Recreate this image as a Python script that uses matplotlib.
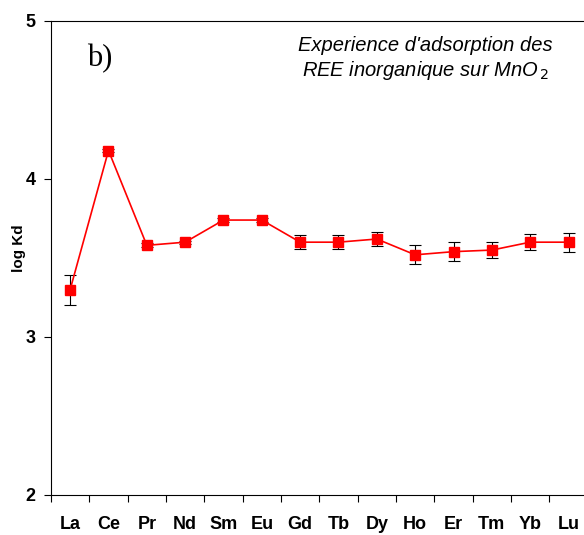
import numpy as np
import matplotlib.pyplot as plt

plt.rcParams['font.family'] = ['Liberation Sans', 'DejaVu Sans']

# REE adsorption on MnO2: log Kd per element with standard deviation
elements = ['La', 'Ce', 'Pr', 'Nd', 'Sm', 'Eu', 'Gd', 'Tb', 'Dy', 'Ho', 'Er', 'Tm', 'Yb', 'Lu']
log_kd = [3.30, 4.18, 3.58, 3.60, 3.74, 3.74, 3.60, 3.60, 3.62, 3.52, 3.54, 3.55, 3.60, 3.60]
log_kd_err = [0.095, 0.01, 0.012, 0.01, 0.01, 0.012, 0.045, 0.045, 0.046, 0.06, 0.06, 0.048, 0.05, 0.06]

x = np.arange(len(elements))

fig = plt.figure(figsize=(5.84, 5.35), dpi=100)
ax = fig.add_axes([0.0873, 0.0748, 0.919, 0.886])

ax.errorbar(x, log_kd, yerr=log_kd_err, fmt='none', ecolor='black',
            elinewidth=0.8, capsize=4, capthick=0.8, zorder=2)
ax.plot(x, log_kd, color='#ff0000', linewidth=1.2, marker='s',
        markersize=7.5, markerfacecolor='#ff0000', markeredgecolor='#ff0000', zorder=3)

ax.set_xlim(-0.5, len(elements) - 0.5)
ax.set_ylim(2, 5)
ax.set_yticks([2, 3, 4, 5])
ax.set_yticklabels(['2', '3', '4', '5'], fontsize=13, fontweight='bold')
ax.set_xticks(x)
ax.set_xticklabels(elements, fontsize=13, fontweight='bold')
ax.set_xticks(np.arange(-0.5, len(elements)), minor=True)
ax.tick_params(axis='x', which='major', length=0, pad=15)
ax.tick_params(axis='x', which='minor', length=5, direction='out', width=0.8)
ax.tick_params(axis='y', which='major', length=5, direction='out', width=0.8, pad=6)
ax.set_ylabel('log Kd', fontsize=11, fontweight='bold')
ax.yaxis.set_label_coords(-0.047, 0.52)

for sp in ax.spines.values():
    sp.set_linewidth(0.8)

ax.text(0.44, 4.715, 'b)', fontsize=22, family='Liberation Serif', va='baseline')
ax.text(0.697, 0.92, "Experience d'adsorption des\nREE inorganique sur MnO$_{\\,2}$",
        transform=ax.transAxes, ha='center', va='center', fontsize=14.5,
        style='italic', linespacing=1.25)

fig.savefig('out.png', dpi=100)
